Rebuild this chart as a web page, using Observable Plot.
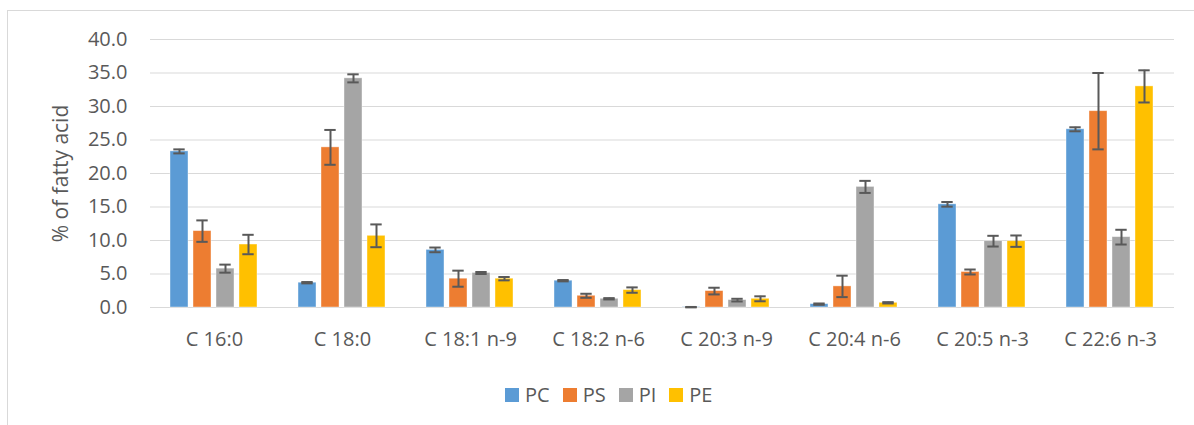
<!DOCTYPE html>
<html>
<head>
<meta charset="utf-8">
<script src="https://cdn.jsdelivr.net/npm/d3@7"></script>
<script src="https://cdn.jsdelivr.net/npm/@observablehq/plot@0.6"></script>
<style>
  html, body { margin: 0; padding: 0; background: #fff; width: 1194px; height: 425px; overflow: hidden; }
  #chart { position: absolute; left: 0; top: 0; }
  #frame { position: absolute; left: 7px; top: 10px; width: 1300px; height: 500px;
           border-left: 1px solid #d9d9d9; border-top: 1px solid #d9d9d9; pointer-events: none; z-index: 2; }
  #legend { position: absolute; left: 505px; top: 381px; display: flex; align-items: center;
            font-family: "Open Sans", sans-serif; font-size: 20px; color: #595959; }
  #legend .item { display: flex; align-items: center; margin-right: 13px; }
  #legend .sw { width: 14px; height: 14px; margin-right: 6px; }
  #chart svg g[aria-label="y-axis label"] text { font-size: 21px; }
</style>
</head>
<body>
<div id="chart"></div>
<div id="legend"></div>
<div id="frame"></div>
<script>
const categories = ["C 16:0", "C 18:0", "C 18:1 n-9", "C 18:2 n-6", "C 20:3 n-9", "C 20:4 n-6", "C 20:5 n-3", "C 22:6 n-3"];
const series = ["PC", "PS", "PI", "PE"];
const colors = ["#5B9BD5", "#ED7D31", "#A5A5A5", "#FFC000"];
const yTicks = [0, 5, 10, 15, 20, 25, 30, 35, 40];

const pcValues = [23.3, 3.7, 8.6, 4.0, 0.05, 0.5, 15.4, 26.6];
const pcErrors = [0.3, 0.1, 0.35, 0.1, 0.03, 0.1, 0.35, 0.3];
const psValues = [11.4, 23.9, 4.3, 1.75, 2.45, 3.15, 5.3, 29.3];
const psErrors = [1.6, 2.6, 1.2, 0.3, 0.5, 1.6, 0.37, 5.7];
const piValues = [5.8, 34.2, 5.15, 1.3, 1.1, 18.0, 9.9, 10.5];
const piErrors = [0.6, 0.6, 0.15, 0.1, 0.2, 0.9, 0.8, 1.1];
const peValues = [9.4, 10.7, 4.3, 2.6, 1.3, 0.7, 9.9, 33.0];
const peErrors = [1.45, 1.7, 0.25, 0.4, 0.37, 0.1, 0.85, 2.4];

const valueSets = [pcValues, psValues, piValues, peValues];
const errorSets = [pcErrors, psErrors, piErrors, peErrors];

const data = [];
categories.forEach((c, i) => {
  series.forEach((s, j) => {
    const v = valueSets[j][i], e = errorSets[j][i];
    data.push({cat: c, series: s, value: v, lo: v - e, hi: v + e});
  });
});

const textColor = "#595959";

const chart = Plot.plot({
  width: 1194,
  height: 360,
  marginLeft: 147,
  marginRight: 17,
  marginTop: 39,
  marginBottom: 53,
  style: {fontFamily: "Open Sans, sans-serif", fontSize: "20px", color: textColor, background: "transparent", overflow: "visible"},
  fx: {domain: categories, padding: 0, label: null},
  x: {domain: series, paddingInner: 0.2, paddingOuter: 0.865, axis: null},
  y: {domain: [0, 40], label: null},
  color: {domain: series, range: colors},
  marks: [
    Plot.ruleY(yTicks, {stroke: "#d9d9d9", strokeWidth: 1.2}),
    Plot.barY(data, {fx: "cat", x: "series", y: "value", fill: "series", stroke: "#ffffff", strokeOpacity: 0.5, strokeWidth: 0.8}),
    Plot.ruleX(data, {fx: "cat", x: "series", y1: "lo", y2: "hi", stroke: "#595959", strokeWidth: 2}),
    Plot.tickY(data, {fx: "cat", x: "series", y: "lo", stroke: "#595959", strokeWidth: 2, insetLeft: 3.3, insetRight: 3.3}),
    Plot.tickY(data, {fx: "cat", x: "series", y: "hi", stroke: "#595959", strokeWidth: 2, insetLeft: 3.3, insetRight: 3.3}),
    Plot.axisY({ticks: yTicks, tickFormat: d => d.toFixed(1), tickSize: 0, tickPadding: 23, fontSize: 20, fill: textColor}),
    Plot.axisY({ticks: [], label: "% of fatty acid", labelAnchor: "center", labelOffset: 97, labelArrow: "none", fontSize: 21, fill: textColor, ariaLabel: "y-axis label"}),
    Plot.axisFx({anchor: "bottom", tickSize: 0, tickPadding: 24, label: null, fontSize: 20, fill: textColor})
  ]
});
document.getElementById("chart").appendChild(chart);

const legend = document.getElementById("legend");
series.forEach((s, j) => {
  const item = document.createElement("div");
  item.className = "item";
  const sw = document.createElement("div");
  sw.className = "sw";
  sw.style.background = colors[j];
  const t = document.createElement("span");
  t.textContent = s;
  item.appendChild(sw);
  item.appendChild(t);
  legend.appendChild(item);
});
</script>
</body>
</html>
